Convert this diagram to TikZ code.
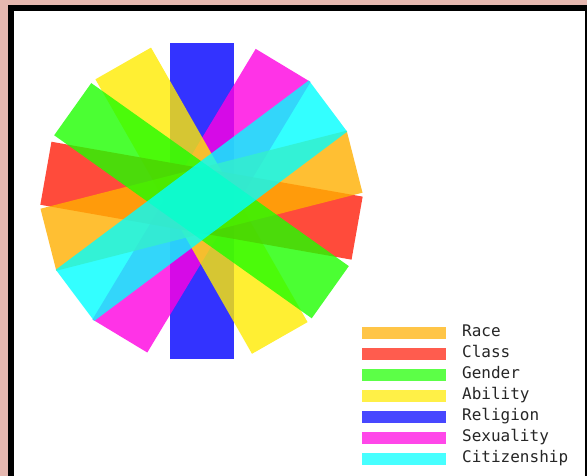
\documentclass[tikz,border=0pt]{standalone}
\usepackage{fontspec}
\newfontfamily\legendfont{DejaVu Sans Mono}
\definecolor{framepink}{RGB}{230,184,176}
\definecolor{race}{RGB}{255,175,0}
\definecolor{class}{RGB}{255,30,10}
\definecolor{gender}{RGB}{30,255,0}
\definecolor{ability}{RGB}{255,235,0}
\definecolor{religion}{RGB}{0,0,255}
\definecolor{sexuality}{RGB}{255,0,225}
\definecolor{citizenship}{RGB}{0,255,255}
\tikzset{
  barshape/.style={fill=#1, fill opacity=0.8},
  keypatch/.style={fill=#1, fill opacity=0.72},
  keytext/.style={anchor=base west, inner sep=0pt, text=black!85, font=\legendfont\fontsize{16}{19}\selectfont}
}
\newcommand{\mybar}[2]{%
  \begin{scope}[shift={(201.5,-200.7)}, rotate=#2]
    \fill[barshape=#1] (-158,-32) -- (158,-32) -- (158,32) -- (-158,32) -- cycle;
  \end{scope}}
\newcommand{\mykey}[3]{%
  \fill[keypatch=#1] (362,{-326.5-21*#2}) rectangle (446,{-338.5-21*#2});
  \node[keytext] (key#1) at (462,{-336.7-21*#2}) {#3};}
\begin{document}
\begin{tikzpicture}[x=1pt,y=1pt]
  \useasboundingbox (0,0) rectangle (587,-476);
  \fill[framepink] (0,0) rectangle (587,-476);
  \fill[black] (8,-5) rectangle (587,-476);
  \fill[white] (14,-11) rectangle (585,-476);
  % bars, bottom to top
  \mybar{religion}{90}
  \mybar{sexuality}{58.9}
  \mybar{ability}{119.7}
  \mybar{class}{170}
  \mybar{race}{14.3}
  \mybar{gender}{144.6}
  \mybar{citizenship}{36.8}
  % legend
  \mykey{race}{0}{Race}
  \mykey{class}{1}{Class}
  \mykey{gender}{2}{Gender}
  \mykey{ability}{3}{Ability}
  \mykey{religion}{4}{Religion}
  \mykey{sexuality}{5}{Sexuality}
  \mykey{citizenship}{6}{Citizenship}
\end{tikzpicture}
\end{document}
